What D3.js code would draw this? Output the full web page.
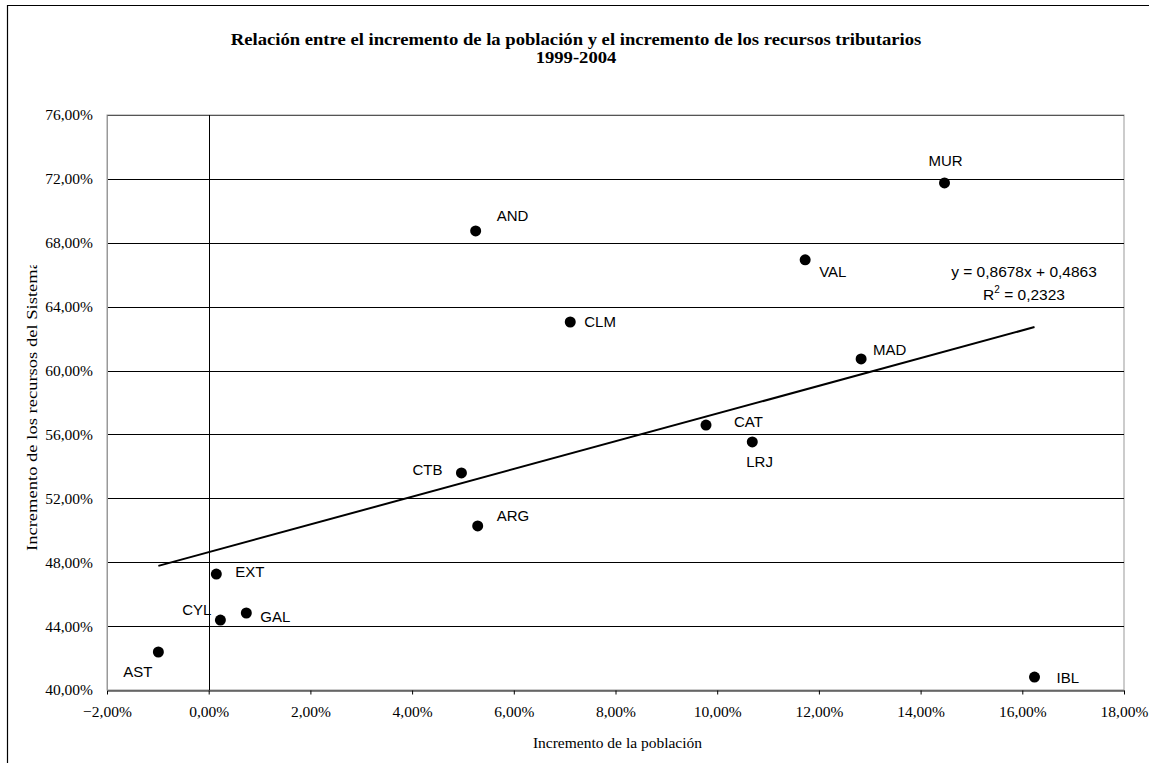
<!DOCTYPE html>
<html><head><meta charset="utf-8">
<script src="https://cdn.jsdelivr.net/npm/d3@7"></script>
<style>body{margin:0;background:#fff}svg{display:block}</style>
</head><body>
<svg id="c" width="1149" height="763"></svg>
<script>
const regions = ["AST","CYL","GAL","EXT","CTB","ARG","AND","CLM","CAT","LRJ","VAL","MAD","MUR","IBL"];
const popGrowth = [-0.0099,0.0023,0.0074,0.0015,0.0497,0.0529,0.0525,0.0711,0.0978,0.1069,0.1173,0.1283,0.1447,0.1624];
const revGrowth = [0.4238,0.4438,0.4482,0.4726,0.5359,0.5027,0.6874,0.6304,0.5659,0.5553,0.6693,0.6073,0.7175,0.4081];
const xTicks = [-0.02,0,0.02,0.04,0.06,0.08,0.10,0.12,0.14,0.16,0.18];
const yTicks = [0.40,0.44,0.48,0.52,0.56,0.60,0.64,0.68,0.72,0.76];
const trend = {slope:0.8678, intercept:0.4863};
const titleLines = ["Relación entre el incremento de la población y el incremento de los recursos tributarios","1999-2004"];

const svg = d3.select("#c");
const L=107,R=1124,T=115,B=690;
const x = d3.scaleLinear().domain([-0.02,0.18]).range([L,R]);
const y = d3.scaleLinear().domain([0.40,0.76]).range([B,T]);
const fmt = v => d3.format(".2f")(v*100).replace(".",",")+"%";

// outer frame
svg.append("path").attr("d","M7.5,763 V5.5 H1149").attr("fill","none").attr("stroke","#000").attr("stroke-width",1.2);

// plot border (gray)
svg.append("rect").attr("x",L).attr("y",T).attr("width",R-L).attr("height",B-T)
  .attr("fill","none").attr("stroke","#999").attr("stroke-width",1);

// gridlines
svg.append("g").selectAll("line").data(yTicks.filter(d=>d>0.40)).join("line")
  .attr("x1",L).attr("x2",R).attr("y1",d=>Math.round(y(d))+0.5).attr("y2",d=>Math.round(y(d))+0.5)
  .attr("stroke",d=>d===0.76?"#555":"#000").attr("stroke-width",1);

// zero vertical
svg.append("line").attr("x1",Math.round(x(0))+0.5).attr("x2",Math.round(x(0))+0.5).attr("y1",T).attr("y2",B).attr("stroke","#000");

// x axis
const xa = svg.append("g").attr("transform",`translate(0,${B+0.5})`)
  .call(d3.axisBottom(x).tickValues(xTicks).tickFormat(fmt).tickSize(4).tickSizeOuter(0).tickPadding(11));
xa.select(".domain").attr("stroke","#000");
xa.selectAll("text").attr("font-family","Liberation Serif").attr("font-size",15.5).attr("fill","#000");

// y axis
const ya = svg.append("g").attr("transform",`translate(${L},0)`)
  .call(d3.axisLeft(y).tickValues(yTicks).tickFormat(fmt).tickSize(0).tickPadding(14));
ya.select(".domain").attr("stroke","#999");
ya.selectAll("text").attr("font-family","Liberation Serif").attr("font-size",15.5).attr("fill","#000");

// trendline
const xmin = d3.min(popGrowth), xmax = d3.max(popGrowth);
svg.append("line").attr("x1",x(xmin)).attr("y1",y(trend.intercept+trend.slope*xmin))
  .attr("x2",x(xmax)).attr("y2",y(trend.intercept+trend.slope*xmax))
  .attr("stroke","#000").attr("stroke-width",2);

// points
const data = regions.map((r,i)=>({r,x:popGrowth[i],y:revGrowth[i]}));
svg.append("g").selectAll("circle").data(data).join("circle")
  .attr("cx",d=>x(d.x)).attr("cy",d=>y(d.y)).attr("r",5.5).attr("fill","#000");

// label offsets [dx, dy(baseline), anchor]
const off = {AST:[-6,25,"end"],CYL:[-9,-5,"end"],GAL:[14,9,"start"],EXT:[19,3,"start"],CTB:[-19,2,"end"],
  ARG:[19,-5,"start"],AND:[21,-10,"start"],CLM:[14,5,"start"],CAT:[28,2,"start"],LRJ:[-6,25,"start"],
  VAL:[14,17,"start"],MAD:[12,-4,"start"],MUR:[1,-17,"middle"],IBL:[22,6,"start"]};
svg.append("g").selectAll("text").data(data).join("text")
  .attr("x",d=>x(d.x)+off[d.r][0]).attr("y",d=>y(d.y)+off[d.r][1]).attr("text-anchor",d=>off[d.r][2])
  .attr("font-family","Liberation Sans").attr("font-size",15).text(d=>d.r);

// equation
const eq = svg.append("g").attr("font-family","Liberation Sans").attr("font-size",15.5).attr("text-anchor","middle");
eq.append("text").attr("x",1024).attr("y",277).text(`y = ${String(trend.slope).replace(".",",")}x + ${String(trend.intercept).replace(".",",")}`);
const r2 = eq.append("text").attr("x",1024).attr("y",300);
r2.append("tspan").text("R");
r2.append("tspan").attr("font-size",10).attr("dy",-7).text("2");
r2.append("tspan").attr("dy",7).text(" = 0,2323");

// title (horizontally stretched like the reference)
svg.append("g").attr("transform","translate(576,0) scale(1.13,1)").selectAll("text").data(titleLines).join("text")
  .attr("x",0).attr("y",(d,i)=>45+i*18).attr("text-anchor","middle")
  .attr("font-family","Liberation Serif").attr("font-weight","bold").attr("font-size",16.5).text(d=>d);

// axis titles
svg.append("text").attr("x",(L+R)/2+2).attr("y",748).attr("text-anchor","middle")
  .attr("font-family","Liberation Serif").attr("font-size",15.5).text("Incremento de la población");
svg.append("defs").append("clipPath").attr("id","yc").append("rect").attr("x",0).attr("y",265).attr("width",100).attr("height",400);
svg.append("g").attr("clip-path","url(#yc)").append("text").attr("transform","translate(37,551) rotate(-90)").attr("text-anchor","start")
  .attr("textLength",290).attr("lengthAdjust","spacingAndGlyphs")
  .attr("font-family","Liberation Serif").attr("font-size",15.5).text("Incremento de los recursos del Sistema");
</script>
</body></html>
